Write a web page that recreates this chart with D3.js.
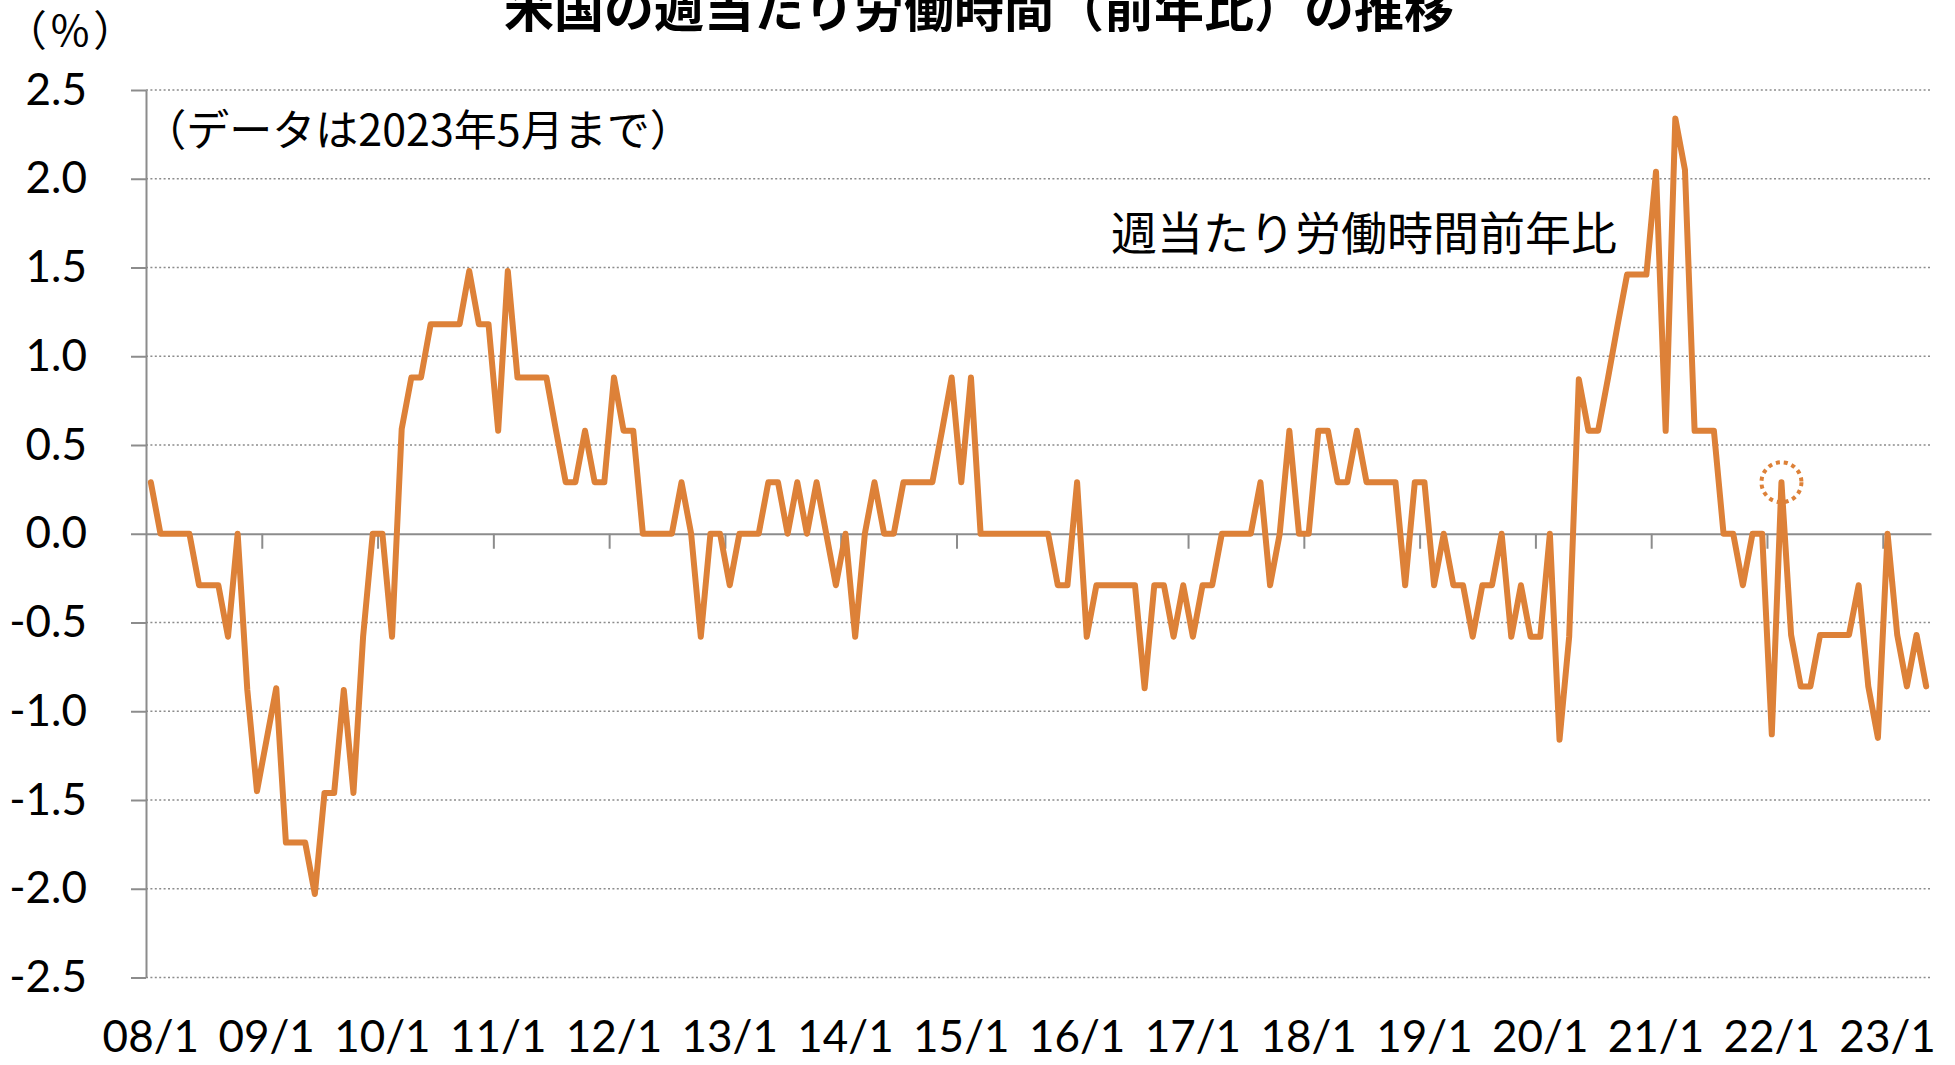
<!DOCTYPE html>
<html>
<head>
<meta charset="utf-8">
<script src="https://cdn.jsdelivr.net/npm/d3@7"></script>
<style>
  body { margin: 0; background: #fff; }
  svg { display: block; }
</style>
</head>
<body>
<svg id="chart" width="1955" height="1065"></svg>
<script>
// US average weekly hours, year-on-year change (%), monthly 2008/1 - 2023/5

var months = d3.timeMonth.range(new Date(2008, 0, 1), new Date(2023, 5, 1));

var values = [
  0.29, 0, 0, 0, 0, -0.29, -0.29, -0.29, -0.58, 0, -0.88, -1.45,            // 2008
  -1.16, -0.87, -1.74, -1.74, -1.74, -2.03, -1.46, -1.46, -0.88, -1.46, -0.58, 0, // 2009
  0, -0.58, 0.59, 0.88, 0.88, 1.18, 1.18, 1.18, 1.18, 1.48, 1.18, 1.18,       // 2010
  0.58, 1.48, 0.88, 0.88, 0.88, 0.88, 0.58, 0.29, 0.29, 0.58, 0.29, 0.29,     // 2011
  0.88, 0.58, 0.58, 0, 0, 0, 0, 0.29, 0, -0.58, 0, 0,                         // 2012
  -0.29, 0, 0, 0, 0.29, 0.29, 0, 0.29, 0, 0.29, 0, -0.29,                     // 2013
  0, -0.58, 0, 0.29, 0, 0, 0.29, 0.29, 0.29, 0.29, 0.58, 0.88,                // 2014
  0.29, 0.88, 0, 0, 0, 0, 0, 0, 0, 0, -0.29, -0.29,                           // 2015
  0.29, -0.58, -0.29, -0.29, -0.29, -0.29, -0.29, -0.87, -0.29, -0.29, -0.58, -0.29, // 2016
  -0.58, -0.29, -0.29, 0, 0, 0, 0, 0.29, -0.29, 0, 0.58, 0,                   // 2017
  0, 0.58, 0.58, 0.29, 0.29, 0.58, 0.29, 0.29, 0.29, 0.29, -0.29, 0.29,       // 2018
  0.29, -0.29, 0, -0.29, -0.29, -0.58, -0.29, -0.29, 0, -0.58, -0.29, -0.58,  // 2019
  -0.58, 0, -1.16, -0.58, 0.87, 0.58, 0.58, 0.87, 1.17, 1.46, 1.46, 1.46,     // 2020
  2.04, 0.58, 2.34, 2.05, 0.58, 0.58, 0.58, 0, 0, -0.29, 0, 0,                // 2021
  -1.13, 0.29, -0.57, -0.86, -0.86, -0.57, -0.57, -0.57, -0.57, -0.29, -0.86, -1.15, // 2022
  0, -0.57, -0.86, -0.57, -0.86                                               // 2023
];

var yTicks = [2.5, 2.0, 1.5, 1.0, 0.5, 0.0, -0.5, -1.0, -1.5, -2.0, -2.5];
var labelMonths = months.filter(function(d) { return d.getMonth() === 0; });
var circled = 169; // 2022/2, marked with a dotted ring

var title = '米国の週当たり労働時間（前年比）の推移';
var unitLabel = '（%）';
var noteLabel = '（データは2023年5月まで）';
var seriesLabel = '週当たり労働時間前年比';

var orange = '#dd8138';
var axisGrey = '#8c8c8c';
var numFont = 'Lato, "Noto Sans", sans-serif';
var jpFont = '"Noto Sans CJK JP", "Noto Sans", sans-serif';

// plot box (window.top is read-only, so no bare "top")
var plotLeft = 146, plotRight = 1931, plotTop = 90, plotBottom = 977.5;

var svg = d3.select('#chart');

var x = d3.scaleBand().domain(months).range([plotLeft, plotRight]);
var xIdx = d3.scaleLinear().domain([0, months.length]).range([plotLeft, plotRight]);
var y = d3.scaleLinear().domain([-2.5, 2.5]).range([plotBottom, plotTop]);

function cx(i) { return x(months[i]) + x.bandwidth() / 2; }

// dotted horizontal gridlines
svg.append('g')
  .selectAll('line')
  .data(yTicks.filter(function(d) { return d !== 0; }))
  .join('line')
  .attr('x1', plotLeft)
  .attr('x2', plotRight)
  .attr('y1', y)
  .attr('y2', y)
  .attr('stroke', axisGrey)
  .attr('stroke-width', 1.5)
  .attr('stroke-dasharray', '2,2.4');

// y axis
var yAxis = svg.append('g')
  .attr('transform', 'translate(' + plotLeft + ',0)')
  .call(d3.axisLeft(y)
    .tickValues(yTicks)
    .tickSize(15)
    .tickSizeOuter(0)
    .tickPadding(44)
    .tickFormat(function(d) { return d.toFixed(1); }));
yAxis.select('.domain').attr('stroke', axisGrey).attr('stroke-width', 2);
yAxis.selectAll('.tick line').attr('stroke', axisGrey).attr('stroke-width', 2);
yAxis.selectAll('.tick text')
  .attr('fill', '#000')
  .style('font-family', numFont)
  .style('font-size', '44px');

// zero line with yearly ticks at category boundaries
var zeroAxis = svg.append('g')
  .attr('transform', 'translate(0,' + y(0) + ')')
  .call(d3.axisBottom(xIdx)
    .tickValues(d3.range(12, months.length, 12))
    .tickSize(15)
    .tickSizeOuter(0)
    .tickFormat(''));
zeroAxis.select('.domain').attr('stroke', axisGrey).attr('stroke-width', 2);
zeroAxis.selectAll('.tick line').attr('stroke', axisGrey).attr('stroke-width', 2);

// year labels centred on the January category
var xLabels = svg.append('g')
  .attr('transform', 'translate(0,1037)')
  .call(d3.axisBottom(x)
    .tickValues(labelMonths)
    .tickSize(0)
    .tickPadding(0)
    .tickFormat(d3.timeFormat('%y/%-m')));
xLabels.select('.domain').remove();
xLabels.selectAll('.tick text')
  .attr('dy', '0.35em')
  .attr('fill', '#000')
  .style('font-family', numFont)
  .style('font-size', '44px');

// the series
var line = d3.line()
  .x(function(d, i) { return cx(i); })
  .y(function(d) { return y(d); });

svg.append('path')
  .datum(values)
  .attr('d', line)
  .attr('fill', 'none')
  .attr('stroke', orange)
  .attr('stroke-width', 6)
  .attr('stroke-linejoin', 'round')
  .attr('stroke-linecap', 'round');

// dotted ring around the 2022/2 point
svg.append('circle')
  .attr('cx', cx(circled))
  .attr('cy', y(values[circled]))
  .attr('r', 20)
  .attr('fill', 'none')
  .attr('stroke', orange)
  .attr('stroke-width', 4)
  .attr('stroke-dasharray', '4,4');

// texts
svg.append('text')
  .attr('x', 979)
  .attr('y', 27)
  .attr('text-anchor', 'middle')
  .style('font-family', jpFont)
  .style('font-weight', 'bold')
  .style('font-size', '50px')
  .text(title);

svg.append('text')
  .attr('x', 72)
  .attr('y', 46)
  .attr('text-anchor', 'middle')
  .style('font-family', jpFont)
  .style('font-size', '42px')
  .style('letter-spacing', '4px')
  .text(unitLabel);

svg.append('text')
  .attr('x', 418)
  .attr('y', 146)
  .attr('text-anchor', 'middle')
  .style('font-family', jpFont)
  .style('font-size', '43px')
  .text(noteLabel);

svg.append('text')
  .attr('x', 1364)
  .attr('y', 250)
  .attr('text-anchor', 'middle')
  .style('font-family', jpFont)
  .style('font-size', '46px')
  .text(seriesLabel);
</script>
</body>
</html>
